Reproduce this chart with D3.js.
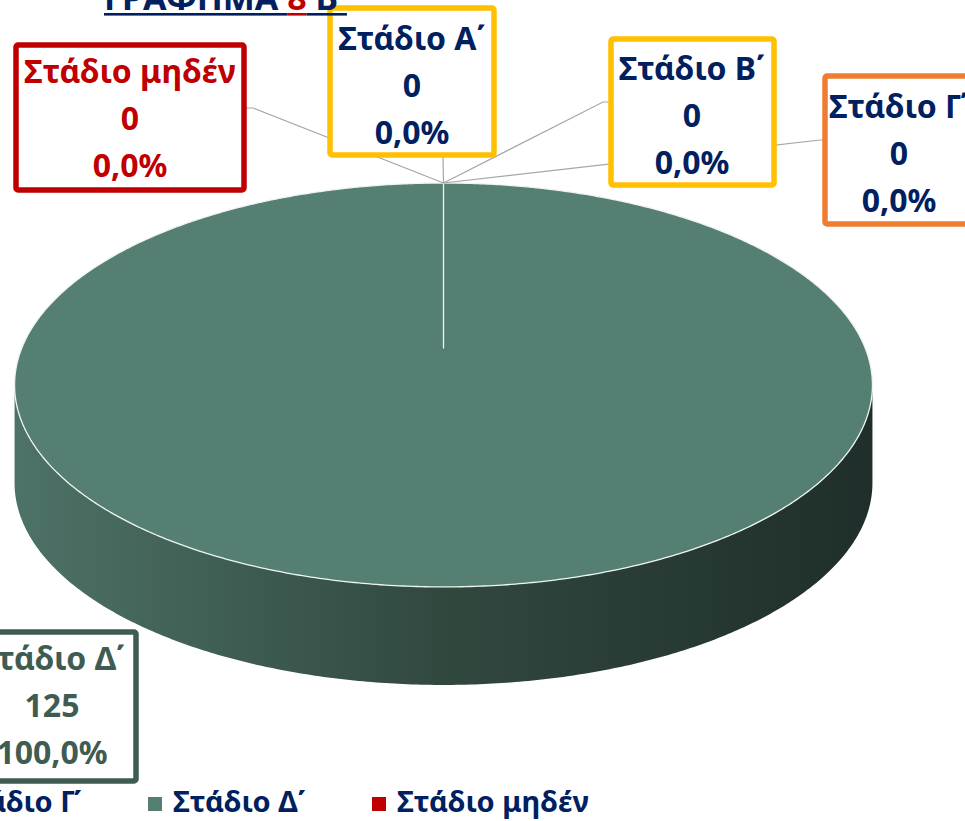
<!DOCTYPE html>
<html>
<head>
<meta charset="utf-8">
<script src="https://cdnjs.cloudflare.com/ajax/libs/d3/7.8.5/d3.min.js"></script>
<style>
  html, body { margin: 0; padding: 0; background: #fff; overflow: hidden; }
  text { font-family: 'Noto Sans', 'DejaVu Sans', sans-serif; font-weight: bold; }
</style>
</head>
<body>
<svg id="chart" width="965" height="821"></svg>
<script>
'use strict';

// Data
const stages = ['Στάδιο Α΄', 'Στάδιο Β΄', 'Στάδιο Γ΄', 'Στάδιο Δ΄', 'Στάδιο μηδέν'];
const counts = [0, 0, 0, 125, 0];
const titleParts = ['ΓΡΑΦΗΜΑ ', '8', ' Β '];

// Styles
const navy = '#002060';
const sliceColors = ['#ffc000', '#ffc000', '#ed7d31', '#567f73', '#c00000'];
const boxColors = ['#ffc000', '#ffc000', '#ed7d31', '#3f5c52', '#c00000'];
const textColors = [navy, navy, navy, '#3f5c52', '#c00000'];
const titleColors = [navy, '#c00000', navy];

// Label boxes (stroke centre lines), text centre and leader elbows
const labelLayout = [
  {x: 330, y: 8, w: 164, h: 147, tx: 412, base: 50, elbow: [[443, 157]]},
  {x: 611, y: 39, w: 163, h: 146, tx: 692, base: 80, elbow: [[603, 102], [611, 102]]},
  {x: 825, y: 76, w: 166, h: 148, tx: 899, base: 118, elbow: [[820, 140], [825, 140]]},
  {x: -26, y: 632, w: 162, h: 149, tx: 52, base: 670, elbow: null},
  {x: 16, y: 45, w: 228, h: 145, tx: 130, base: 83, elbow: [[253, 108], [244, 108]]}
];

const svg = d3.select('#chart');
const gr = d3.formatLocale({decimal: ',', thousands: '.', grouping: [3], currency: ['', '€']});
const pct = gr.format('.1%');
const total = d3.sum(counts);

// Perspective projection of the unit pie onto the page
const cx = 443.5, cy = 348, kx = 421.7, ky = 195.2, persp = -0.183, depth = 98;
function proj(a, dy) {
  const u = Math.sin(a), v = -Math.cos(a), den = 1 + persp * v;
  return [cx + kx * u / den, cy + ky * v / den + (dy || 0)];
}

const pie = d3.pie().sort(null).value(d => d)(counts);

// Side of the cylinder
const defs = svg.append('defs');
const grad = defs.append('linearGradient')
  .attr('id', 'sideGrad')
  .attr('gradientUnits', 'userSpaceOnUse')
  .attr('x1', 15).attr('x2', 873).attr('y1', 0).attr('y2', 0);
grad.append('stop').attr('offset', 0).attr('stop-color', '#4d7267');
grad.append('stop').attr('offset', 0.5).attr('stop-color', '#31483f');
grad.append('stop').attr('offset', 1).attr('stop-color', '#1f2e2a');

const angles = d3.range(0, 721).map(i => i / 720 * 2 * Math.PI);
const rim = angles.map(a => proj(a));
const iR = d3.maxIndex(rim, p => p[0]);
const iL = d3.minIndex(rim, p => p[0]);
const front = angles.slice(iR, iL + 1);
const sidePts = front.map(a => proj(a)).concat(front.slice().reverse().map(a => proj(a, depth)));
svg.append('path')
  .attr('d', d3.line()(sidePts) + 'Z')
  .attr('fill', 'url(#sideGrad)');

// Top face slices
pie.forEach((s, i) => {
  if (s.endAngle - s.startAngle <= 0) return;
  const n = Math.max(2, Math.round((s.endAngle - s.startAngle) / (2 * Math.PI) * 720));
  const pts = d3.range(n + 1).map(k => proj(s.startAngle + (s.endAngle - s.startAngle) * k / n));
  svg.append('path')
    .attr('d', d3.line()([[cx, cy]].concat(pts)) + 'Z')
    .attr('fill', sliceColors[i])
    .attr('stroke', '#eef4f2')
    .attr('stroke-width', 1.3)
    .attr('stroke-linejoin', 'round');
});

// Leader lines
pie.forEach((s, i) => {
  const lay = labelLayout[i];
  if (!lay.elbow) return;
  const mid = (s.startAngle + s.endAngle) / 2;
  svg.append('path')
    .attr('d', d3.line()([proj(mid)].concat(lay.elbow)))
    .attr('fill', 'none')
    .attr('stroke', '#a6a6a6')
    .attr('stroke-width', 1.2);
});

// Data labels
pie.forEach((s, i) => {
  const lay = labelLayout[i];
  const g = svg.append('g');
  g.append('rect')
    .attr('x', lay.x).attr('y', lay.y)
    .attr('width', lay.w).attr('height', lay.h)
    .attr('rx', 2)
    .attr('fill', '#fff')
    .attr('stroke', boxColors[i])
    .attr('stroke-width', 5.5);
  [stages[i], String(counts[i]), pct(counts[i] / total)].forEach((t, k) => {
    g.append('text')
      .attr('x', lay.tx)
      .attr('y', lay.base + k * 47)
      .attr('text-anchor', 'middle')
      .attr('font-size', 32)
      .attr('fill', textColors[i])
      .text(t);
  });
});

// Legend
const legend = svg.append('g');
const legendFont = 29;
const tmp = svg.append('text').attr('font-size', legendFont);
const widths = stages.map(t => { tmp.text(t); return tmp.node().getComputedTextLength(); });
tmp.remove();
const mk = 14, gapIn = 11, gapOut = 66;
let xs = [], x = 0;
stages.forEach((t, i) => { xs.push(x); x += mk + gapIn + widths[i] + gapOut; });
const shift = 148 - xs[3];
stages.forEach((t, i) => {
  const x0 = xs[i] + shift;
  legend.append('rect')
    .attr('x', x0).attr('y', 797)
    .attr('width', mk).attr('height', mk)
    .attr('fill', sliceColors[i]);
  legend.append('text')
    .attr('x', x0 + mk + gapIn).attr('y', 812)
    .attr('font-size', legendFont)
    .attr('fill', navy)
    .text(t);
});

// Title (only its lower edge shows)
const title = svg.append('g');
let tx = 104;
titleParts.forEach((t, i) => {
  const el = title.append('text')
    .attr('x', tx).attr('y', 10)
    .attr('font-size', 34)
    .attr('fill', titleColors[i])
    .attr('xml:space', 'preserve')
    .style('white-space', 'pre')
    .text(t);
  const w = el.node().getComputedTextLength();
  title.append('rect')
    .attr('x', tx).attr('y', 13)
    .attr('width', w).attr('height', 2.6)
    .attr('fill', titleColors[i]);
  tx += w;
});
</script>
</body>
</html>
